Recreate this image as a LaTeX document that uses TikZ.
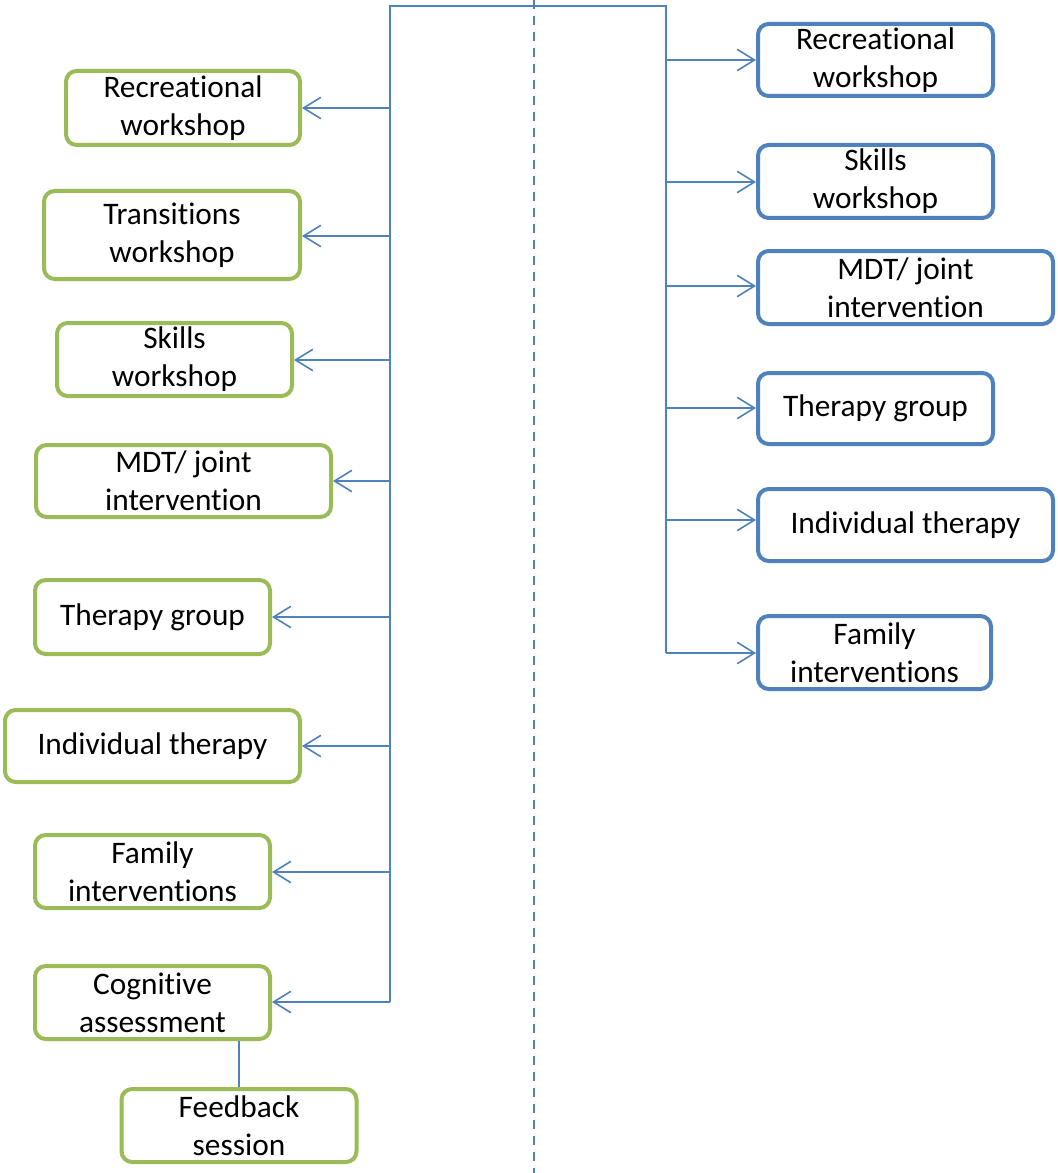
\documentclass[tikz,border=0pt]{standalone}
\usepackage{fontspec}
\setmainfont[Ligatures={NoCommon}]{Carlito}
\usetikzlibrary{arrows.meta}
\definecolor{gline}{HTML}{9BBB59}
\definecolor{bline}{HTML}{4F81BD}
\begin{document}
\begin{tikzpicture}[x=0.75pt,y=-0.75pt,
  every node/.style={font=\fontsize{23.5}{28.5}\selectfont, align=center, inner sep=0pt},
  sz/.style 2 args={minimum width=#1*0.75pt, minimum height=#2*0.75pt},
  gbox/.style={draw=gline, line width=3pt, rounded corners=8pt, rectangle},
  bbox/.style={draw=bline, line width=3pt, rounded corners=8pt, rectangle},
  conn/.style={draw=bline, line width=1.2pt},
  arr/.style={conn, -{Straight Barb[length=13pt,width=16pt,line width=1.2pt]}}]
\useasboundingbox (0,0) rectangle (1057,1173);
% dashed divider
\coordinate (dtop) at (534,0);
\coordinate (dbot) at (534,1173);
\draw[bline, line width=2.2pt, dash pattern=on 7pt off 5pt] (dtop) -- (dbot);
% left boxes
\node[gbox, sz={234}{74}] (L1) at (183,108) {Recreational\\workshop};
\node[gbox, sz={256}{88}] (L2) at (172,235) {Transitions\\workshop};
\node[gbox, sz={235}{73}] (L3) at (174.5,359.5) {Skills\\workshop};
\node[gbox, sz={295}{72}] (L4) at (183.5,481) {MDT/ joint\\intervention};
\node[gbox, sz={235}{74}] (L5) at (152.5,617) {Therapy group};
\node[gbox, sz={295}{72}] (L6) at (152.5,746) {Individual therapy};
\node[gbox, sz={235}{73}] (L7) at (152.5,871.5) {Family\\interventions};
\node[gbox, sz={235}{73}] (L8) at (152.5,1002.5) {Cognitive\\assessment};
\node[gbox, sz={235}{73}] (L9) at (239,1125.5) {Feedback\\session};
% right boxes
\node[bbox, sz={235}{72}] (R1) at (875.5,60) {Recreational\\workshop};
\node[bbox, sz={235}{73}] (R2) at (875.5,181.5) {Skills\\workshop};
\node[bbox, sz={295}{73}] (R3) at (905.5,287.5) {MDT/ joint\\intervention};
\node[bbox, sz={235}{71}] (R4) at (875.5,408.5) {Therapy group};
\node[bbox, sz={295}{72}] (R5) at (905.5,525) {Individual therapy};
\node[bbox, sz={233}{73}] (R6) at (874.5,652.5) {Family\\interventions};
% trunks
\coordinate (top) at (390,6);
\coordinate (topR) at (666,6);
\coordinate (tL1) at (390,108);
\coordinate (tL2) at (390,236);
\coordinate (tL3) at (390,360);
\coordinate (tL4) at (390,481);
\coordinate (tL5) at (390,617);
\coordinate (tL6) at (390,746);
\coordinate (tL7) at (390,872);
\coordinate (tL8) at (390,1002);
\coordinate (tR1) at (666,60);
\coordinate (tR2) at (666,182);
\coordinate (tR3) at (666,286);
\coordinate (tR4) at (666,408);
\coordinate (tR5) at (666,520);
\coordinate (tR6) at (666,653);
\draw[conn] (tL8) -- (top) -- (topR) -- (tR6);
\foreach \i in {1,...,8}{\draw[arr] (tL\i) -- (tL\i -| L\i.east);}
\foreach \i in {1,...,6}{\draw[arr] (tR\i) -- (tR\i -| R\i.west);}
\draw[conn] (L9.north) -- (L9.north |- L8.south);
\end{tikzpicture}
\end{document}
